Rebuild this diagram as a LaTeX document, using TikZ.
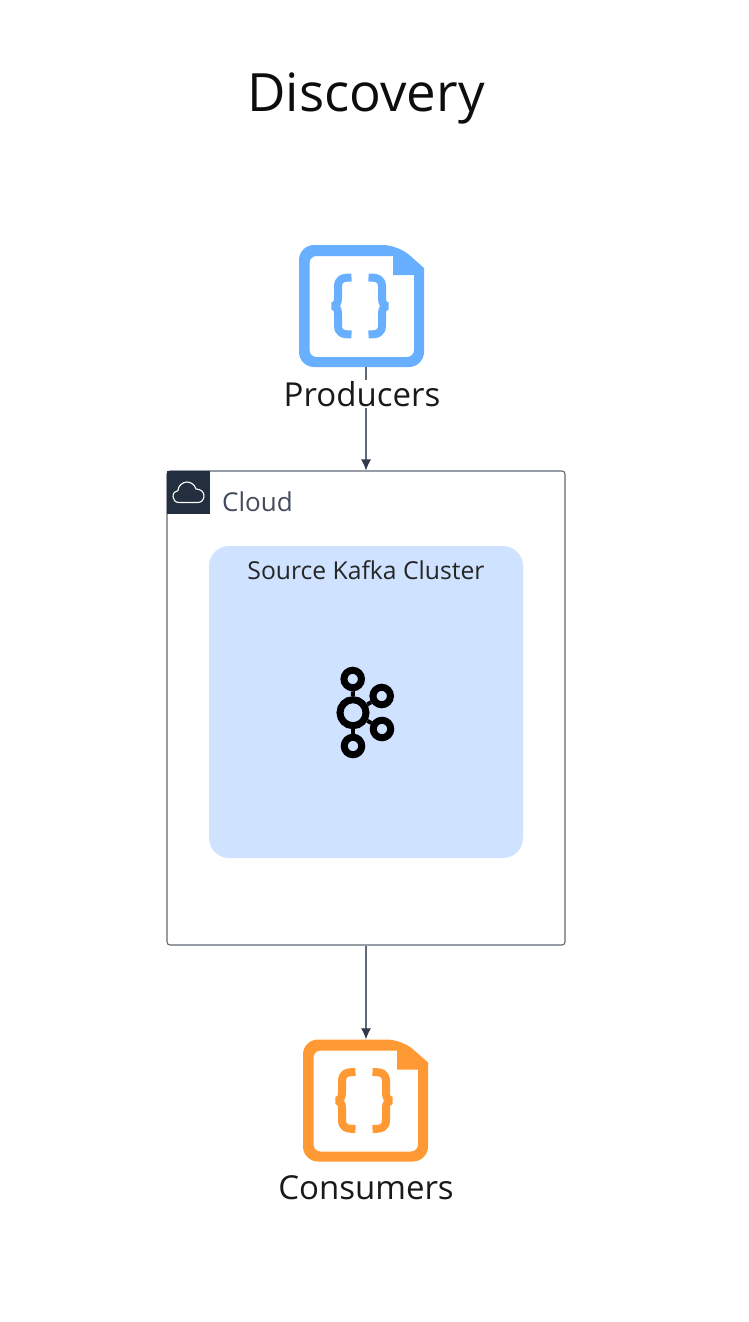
\documentclass[tikz,border=0pt]{standalone}
\usepackage{fontspec}
\setmainfont{Open Sans}
\usetikzlibrary{arrows.meta}
\definecolor{edgegray}{HTML}{5F6875}
\definecolor{tipdark}{HTML}{2F3A4A}
\definecolor{clouddark}{HTML}{232F3E}
\definecolor{clusterblue}{HTML}{CFE2FF}
\definecolor{prodblue}{HTML}{69AFFF}
\definecolor{consorange}{HTML}{FF9933}
\definecolor{cloudtext}{HTML}{434C5C}
\tikzset{
	pics/docicon/.style={code={
		% sheet with folded corner
		\fill[#1,even odd rule]
			[rounded corners=15pt] (-62.5,-61) -- (36.5,-61) [sharp corners] -- (62.5,-38)
			[rounded corners=15pt] -- (62.5,61) -- (-62.5,61) -- cycle
			[rounded corners=7pt] (-52,-50) [sharp corners] -- (31.5,-50) -- (31.5,-31) -- (52.5,-31)
			[rounded corners=7pt] -- (52.5,51) -- (-52,51) -- cycle;
		% braces
		\foreach \s in {1,-1}
			\draw[#1,line width=8pt,line join=bevel,xscale=\s,shift={(-1.5*\s,0)}]
				(-8.5,-28.5) .. controls (-18,-28.5) and (-22,-27) .. (-22,-19) -- (-22,-8)
				.. controls (-22,-3) and (-23.5,-1) .. (-27,0)
				.. controls (-23.5,1) and (-22,3) .. (-22,8) -- (-22,19)
				.. controls (-22,27) and (-18,28.5) .. (-8.5,28.5);
	}}
}
\begin{document}
\begin{tikzpicture}[x=1pt,y=-1pt]
	\def \midline{366}
	\tikzstyle{doc-node}=[inner sep=0pt,minimum width=125pt,minimum height=122pt]
	\tikzstyle{doc-label}=[inner sep=1pt,fill=white,text=black!90,font=\fontsize{33}{38}\selectfont]
	\tikzstyle{k-node}=[circle,draw=black,inner sep=0pt,line width=7pt]
	\tikzstyle{link}=[draw=edgegray,line width=1.1pt,-{Latex[length=11pt,width=10pt,color=tipdark]}]
	\useasboundingbox (0,0) rectangle (748,1322);
	% title
	\node[font=\fontsize{52.8}{60}\selectfont,text=black!95] (title) at (366,98) {Discovery};

	% cloud group
	\node[draw=edgegray,line width=1.1pt,rounded corners=3pt,minimum width=398pt,minimum height=474pt,inner sep=0pt] (cloudbox) at (\midline,708) {};
	\node[fill=clouddark,minimum size=43pt,inner sep=0pt] (cloudtag) at (188.5,492.5) {};
	\draw[white,line width=1.1pt] (179,502.5) .. controls (175,502.5) and (173,499.5) .. (173,496.5)
		.. controls (173,493) and (175,491) .. (178,490.5) .. controls (178,485.5) and (183,482) .. (187,482)
		.. controls (191,482) and (195,485) .. (196,489) .. controls (201,489) and (204,492) .. (204,496)
		.. controls (204,500) and (201,502.5) .. (198,502.5) -- cycle;
	\node[anchor=west,inner sep=0pt,text=cloudtext,font=\fontsize{26}{30}\selectfont] (cloudlabel) at (222,502) {Cloud};

	% source cluster
	\node[fill=clusterblue,rounded corners=20pt,minimum width=314pt,minimum height=312pt,inner sep=0pt] (cluster) at (\midline,702) {};
	\node[text=black!85,font=\fontsize{24.7}{28}\selectfont] (clusterlabel) at (\midline,570) {Source Kafka Cluster};

	% kafka logo
	\node[k-node,minimum size=26pt] (k0) at (353,712.7) {};
	\node[k-node,minimum size=17.5pt] (k1) at (352.7,679) {};
	\node[k-node,minimum size=17.5pt] (k2) at (381.7,696) {};
	\node[k-node,minimum size=17.5pt] (k3) at (382,729) {};
	\node[k-node,minimum size=17.5pt] (k4) at (353,746) {};
	\path[draw=black,line width=4pt]
		(k0)	edge	(k1)
		(k0)	edge	(k2)
		(k0)	edge	(k3)
		(k0)	edge	(k4);

	% icons
	\node[doc-node] (prodicon) at (361.5,306) {};
	\pic at (prodicon.center) {docicon=prodblue};
	\node[doc-node] (consicon) at (365.5,1100.5) {};
	\pic at (consicon.center) {docicon=consorange};

	% arrows, labels go over them
	\path[link] (cloudbox.north |- prodicon.south) -- (cloudbox.north);
	\path[link] (cloudbox.south) -- (cloudbox.south |- consicon.north);
	\node[doc-label] (prodlabel) at (362,394) {Producers};
	\node[doc-label] (conslabel) at (366,1188) {Consumers};
\end{tikzpicture}
\end{document}
